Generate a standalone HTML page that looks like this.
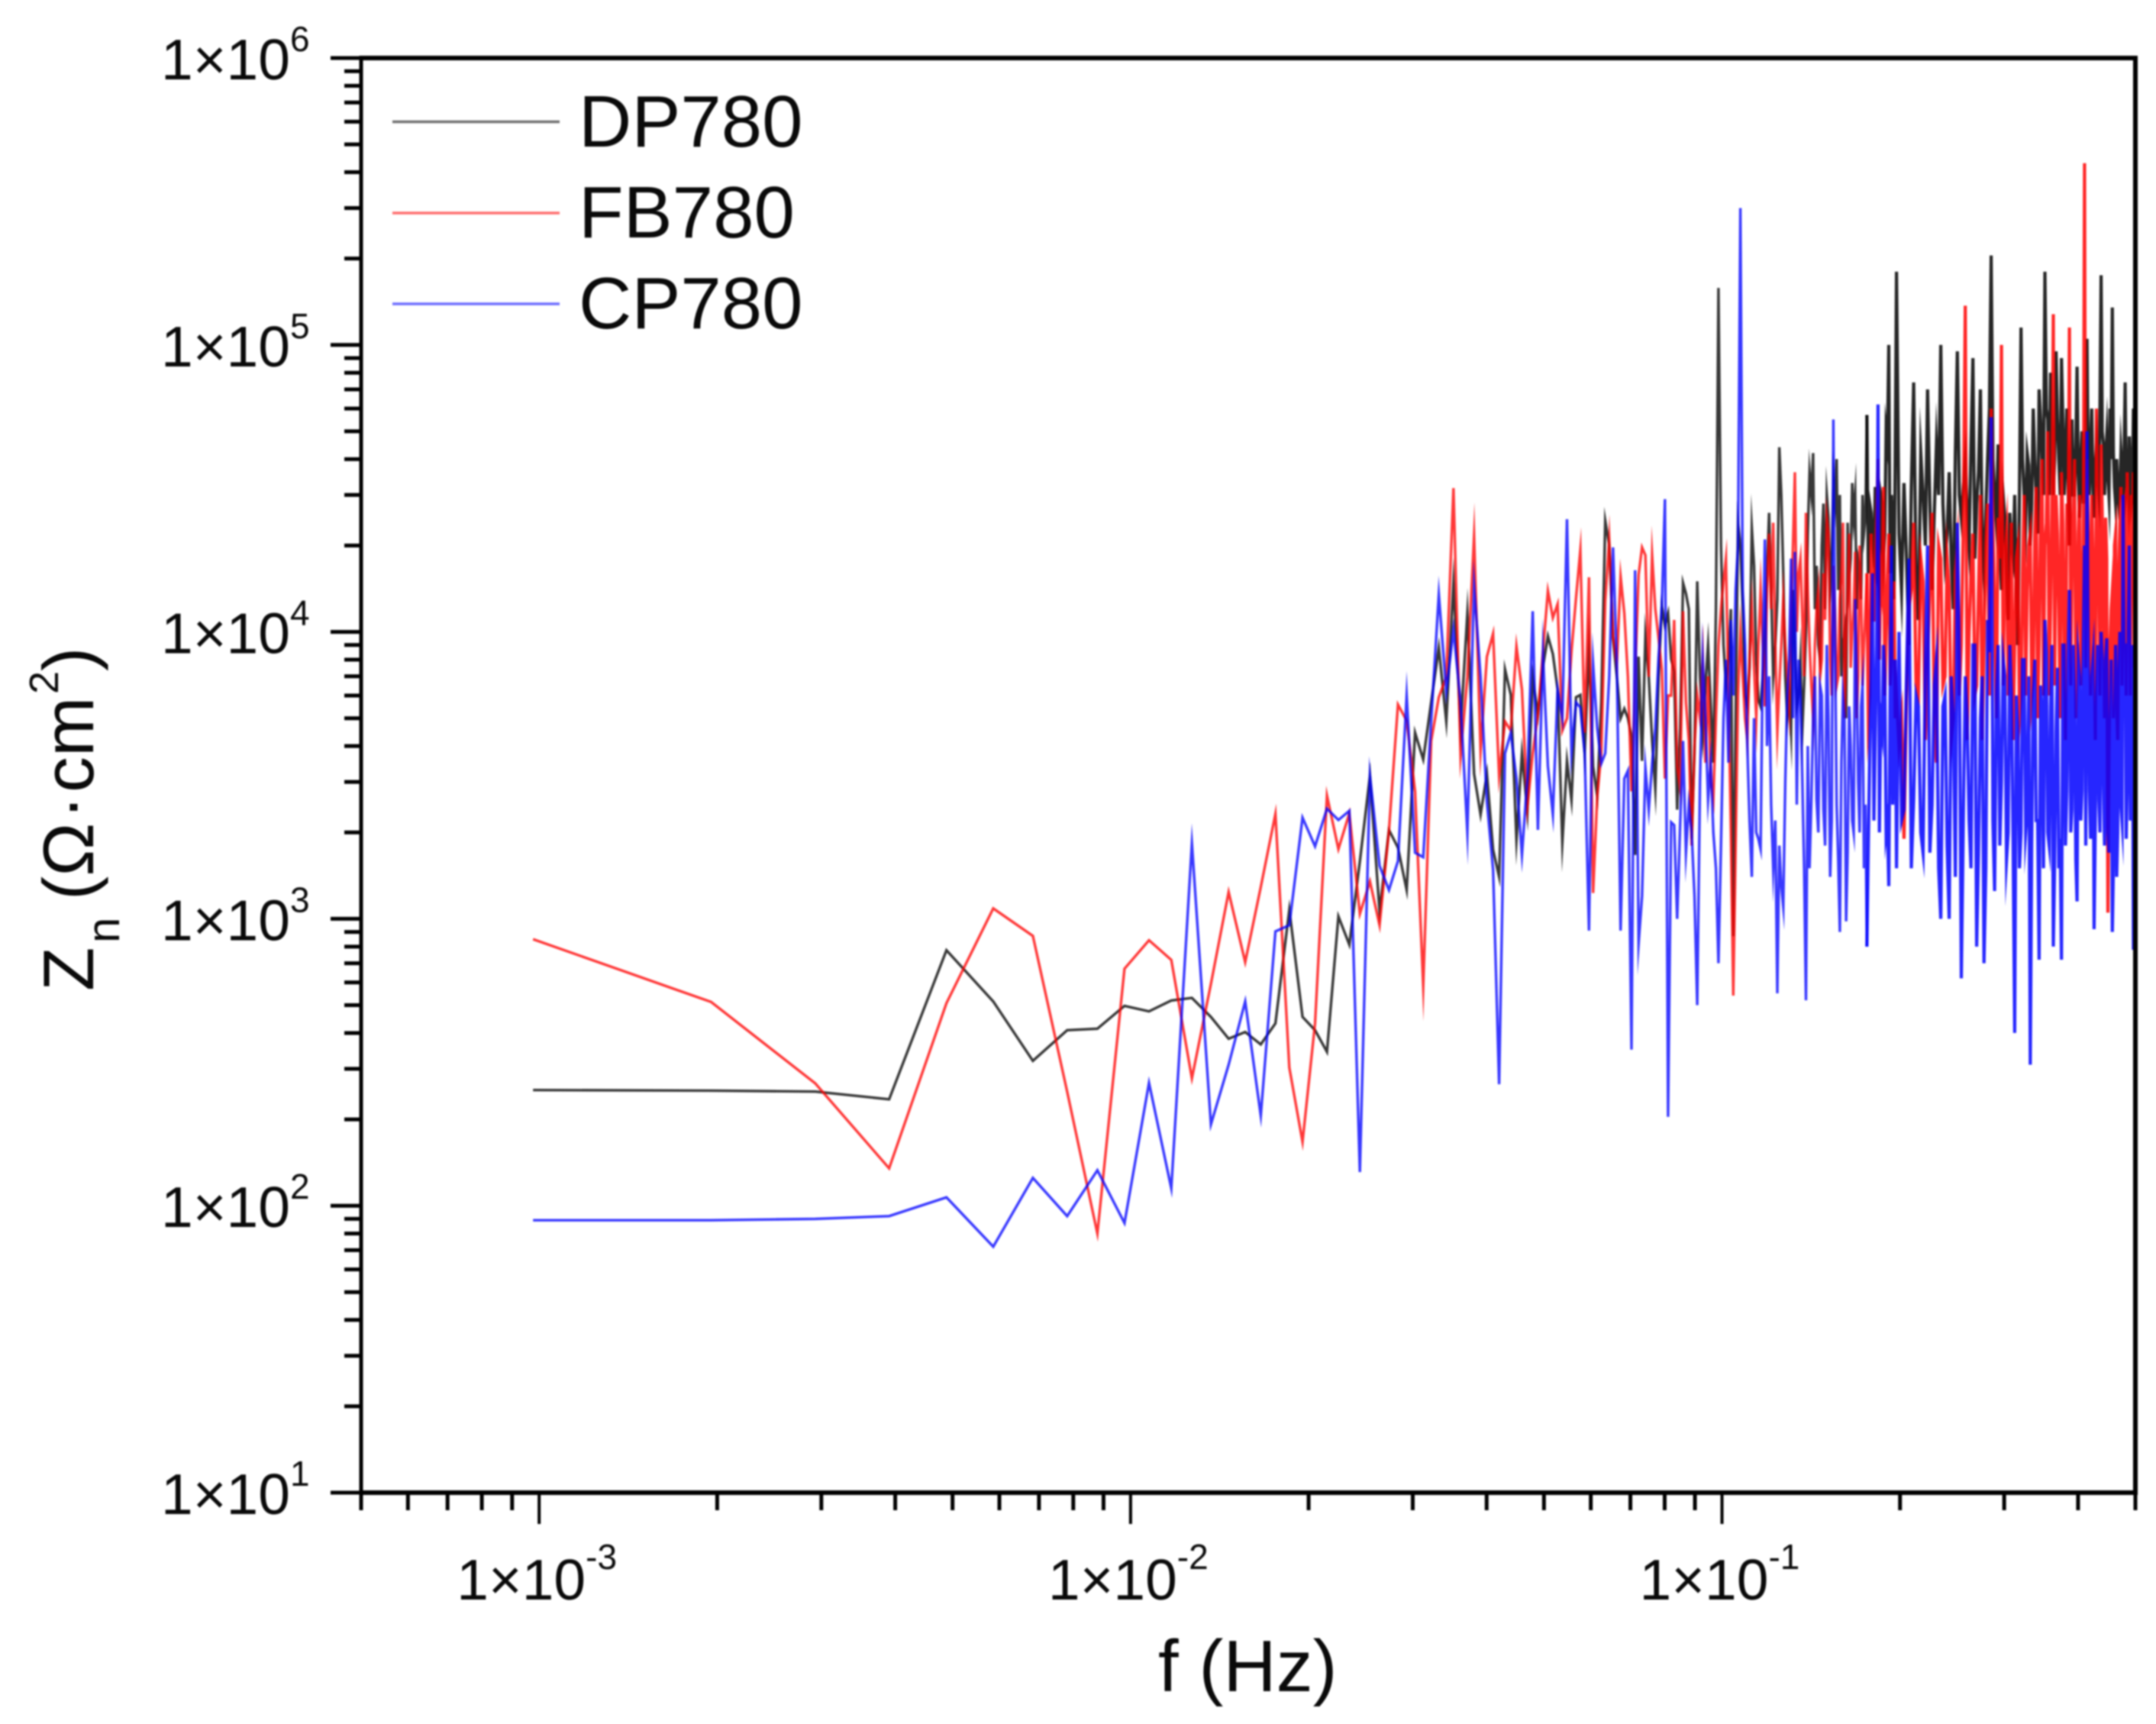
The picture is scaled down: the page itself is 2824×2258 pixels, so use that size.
<!DOCTYPE html>
<html lang="en">
<head>
<meta charset="utf-8">
<title>Noise impedance spectrum</title>
<style>
html,body{margin:0;padding:0;background:#fff;width:2824px;height:2258px;overflow:hidden}
svg{display:block;filter:blur(1px)}
text{font-family:"Liberation Sans","DejaVu Sans",sans-serif;fill:#0a0a0a}
</style>
</head>
<body>
<svg id="chart" xmlns="http://www.w3.org/2000/svg" width="2824" height="2258" viewBox="0 0 2824 2258">
  <rect x="0" y="0" width="2824" height="2258" fill="#ffffff"/>
  <g id="series-layer"></g>
  <g id="axis-layer"></g>
  <g id="legend">
    <g>
      <line x1="514" x2="733" y1="159.5" y2="159.5" stroke="#222" stroke-opacity="0.65" stroke-width="3.5"/>
      <text x="758" y="192" font-size="96">DP780</text>
    </g>
    <g>
      <line x1="514" x2="733" y1="279" y2="279" stroke="#ff2020" stroke-opacity="0.65" stroke-width="3.5"/>
      <text x="758" y="311" font-size="96">FB780</text>
    </g>
    <g>
      <line x1="514" x2="733" y1="398" y2="398" stroke="#2020ff" stroke-opacity="0.65" stroke-width="3.5"/>
      <text x="758" y="430" font-size="96">CP780</text>
    </g>
  </g>
  <text x="1517" y="2215" font-size="96">f (Hz)</text>
  <text transform="translate(122,1298) rotate(-90)" font-size="94"><tspan x="0">Z</tspan><tspan x="63" dy="34" font-size="60">n</tspan><tspan x="119" dy="-34">(Ω</tspan><tspan x="225">·</tspan><tspan x="260">cm</tspan><tspan x="389" dy="-46" font-size="54">2</tspan><tspan x="419" dy="46">)</tspan></text>
</svg>
<script>
// Frequency bins (f = bin / 1024 Hz)
const freqBins = [
1,2,3,4,5,6,7,8,9,10,
11,12,13,14,15,16,17,18,19,20,
21,22,23,24,25,26,27,28,29,30,
31,32,33,34,35,36,37,38,39,40,
41,42,43,44,45,46,47,48,49,50,
51,52,53,54,55,56,57,58,59,60,
61,62,63,64,65,66,67,68,69,70,
71,72,73,74,75,76,77,78,79,80,
81,82,83,84,85,86,87,88,89,90,
91,92,93,94,95,96,97,98,99,100,
101,102,103,104,105,106,107,108,109,110,
111,112,113,114,115,116,117,118,119,120,
121,122,123,124,125,126,127,128,129,130,
132,134,136,138,140,142,144,146,148,150,
152,154,156,158,160,162,164,166,168,170,
172,174,176,178,180,182,184,186,188,190,
192,194,196,198,200,202,
204,208,212,216,220,224,228,232,236,240,
244,248,252,256,260,264,268,272,276,280,
284,288,292,296,300,304,308,312,316,320,
324,328,332,336,340,344,348,352,356,360,
364,368,372,376,380,384,388,392,396,400,
404,408,412,416,420,424,428,432,436,440,
444,448,452,456,460,464,468,472,476,480,
484,488,492,496,500,504,508,512];

const dp780Z = [
253,252,250,235,777,515,320,409,414,497,
476,519,530,455,382,403,365,432,1076,455,
409,344,1020,813,1585,3150,1060,2040,1770,1260,
4450,3590,5680,8810,4870,14800,4620,11600,3200,2310,
3200,1740,1400,7400,6030,1880,3770,2360,6970,5130,
7550,9660,8370,6300,1840,3550,2590,5920,6030,3770,
8810,3400,2670,5680,24400,20100,9470,6970,5000,5400,
5000,4300,1670,8200,3550,9660,6970,4170,2830,6970,
12300,10500,11600,8030,7250,2400,4620,14800,13600,12000,
1900,3800,15000,7000,4400,6500,9000,5600,3500,12000,
158000,20000,9000,6500,8000,12000,870,5000,24000,20000,
12000,6000,5500,7500,23000,17000,8000,5800,5500,7000,
9000,16000,26000,14000,7000,9000,13000,44000,30000,16000,
5000,4500,9000,6000,4600,10000,36000,42000,17000,8000,
28000,30000,14000,34000,40000,30000,9000,5000,15000,33000,
30000,18000,13000,22000,57000,28000,20000,32000,15000,30000,
18000,50000,100000,30000,13000,180000,
22000,33000,9000,74000,11000,30000,70000,14000,45000,100000,
18000,36000,12000,95000,25000,40000,20000,90000,28000,70000,
16000,40000,205000,30000,45000,14000,25000,11000,20000,30000,
9000,115000,30000,42000,20000,60000,30000,70000,40000,180000,
55000,80000,30000,95000,40000,90000,30000,60000,20000,55000,
30000,84000,25000,50000,35000,105000,30000,60000,25000,45000,
30000,175000,45000,40000,35000,60000,135000,32000,40000,28000,
42000,30000,74000,35000,48000,28000,60000,34000];

const fb780Z = [
849,513,267,135,508,1087,872,250,80,670,
842,719,278,593,1240,706,1290,2320,303,167,
432,2690,1750,2330,1040,1350,950,2030,5580,4900,
2780,582,4170,5920,6970,31700,3700,6970,21600,3850,
8200,9860,3140,4870,4530,8900,6300,2450,3770,5130,
8550,13900,11200,12500,4530,5000,8550,13100,19300,4450,
15500,1230,2670,3770,12800,21000,9660,7700,15600,11600,
6970,2780,6970,15800,19700,18500,6970,18500,12000,9470,
7400,3080,6000,6000,11000,3400,2830,11800,5680,4170,
1800,4000,6000,5000,8000,3500,7000,3000,2600,5000,
9000,12000,15000,18000,6000,2000,540,1800,6000,10000,
7000,5000,4200,8000,12000,7500,5000,9000,14000,9000,
5500,14000,22000,12000,24000,9000,4500,6500,9000,13000,
7000,12000,36000,16000,11000,26000,9000,5000,12000,7000,
16000,25000,8000,17000,6500,13000,24000,9000,22000,10000,
19000,7000,14000,9000,16000,6000,11000,18000,40000,16000,
32000,10000,22000,8000,15000,6000,
4000,1900,12000,24000,6000,15000,8000,26000,3500,18000,
7000,14000,5000,20000,9000,137000,10000,22000,6500,30000,
9000,28000,60000,12000,25000,100000,18000,6000,24000,9000,
20000,6000,30000,14000,22000,7000,32000,9000,40000,20000,
50000,12000,128000,30000,12000,36000,9000,28000,115000,16000,
40000,10000,30000,12000,430000,40000,13000,30000,10000,60000,
14000,45000,11000,25000,1050,9000,14000,20000,5500,16000,
32000,10000,28000,36000,14000,30000,36000,25000];

const cp780Z = [
89,89,90,92,107,72,125,92,133,87,
268,115,1830,192,310,515,206,904,950,2250,
1790,2420,2210,2380,131,3150,1530,1260,1590,6000,
1700,1640,4900,13500,6200,10200,5680,2000,14500,6970,
2560,1480,265,3770,4450,3080,1670,3080,11800,2040,
8370,3400,2310,6300,5000,24700,3770,5680,5450,3770,
910,7700,4620,3480,3770,6970,19700,7700,910,3080,
3280,350,16400,820,1200,3350,2400,3480,4620,8200,
12300,29000,204,2170,2120,1000,2120,4170,1700,2500,
2000,1200,500,3000,8000,5000,2600,3500,2000,1500,
700,1800,5000,8000,3500,11000,6000,14000,20000,300000,
14000,9000,4000,2200,1400,5000,2000,1900,1750,8000,
21000,4000,7000,2500,1500,2200,550,1800,1300,1100,
6000,18000,19000,8000,3000,520,1500,5000,2600,6500,
2400,9000,1400,55000,2500,900,6000,980,5500,2200,
13000,3000,5500,1500,800,3800,16000,4500,62000,5000,
9000,2000,1300,20000,3500,1500,
10000,2400,18000,2600,5500,1700,20000,2500,8000,1000,
6000,1000,5000,24000,620,7000,2200,9000,800,5000,
700,11000,56000,1250,9000,3000,7000,2000,6000,400,
4500,2000,8000,2400,310,6000,2200,720,5000,11000,
2000,5500,800,4500,1500,720,9000,2800,14000,2400,
6000,1150,7000,2800,20000,50000,2800,7000,920,6000,
2600,10000,3000,8000,2000,4000,900,5000,1400,7000,
2500,30000,9000,3000,20000,4000,780,15000];

// In-between bins of the dense high-frequency region
const denseBins = [
131,133,135,137,139,141,143,145,147,149,
151,153,155,157,159,161,163,165,167,169,
171,173,175,177,179,181,183,185,187,189,
191,193,195,197,199,201,
206,210,214,218,222,226,230,234,238,242,
246,250,254,258,262,266,270,274,278,282,
286,290,294,298,302,306,310,314,318,322,
326,330,334,338,342,346,350,354,358,362,
366,370,374,378,382,386,390,394,398,402,
406,410,414,418,422,426,430,434,438,442,
446,450,454,458,462,466,470,474,478,482,
486,490,494,498,502,506,510];

const dp780DenseZ = [
7000,6000,14000,5500,8000,6500,22000,30000,12000,9000,
20000,12000,25000,18000,28000,14000,7000,10000,24000,18000,
25000,12000,17000,30000,25000,16000,26000,18000,24000,14000,
28000,22000,45000,16000,22000,40000,
14000,18000,32000,16000,42000,20000,28000,26000,30000,28000,
22000,18000,42000,30000,32000,26000,45000,18000,36000,22000,
26000,60000,40000,24000,20000,30000,16000,26000,18000,14000,
30000,40000,24000,38000,28000,40000,22000,55000,30000,60000,
30000,50000,40000,55000,30000,55000,40000,32000,42000,30000,
45000,35000,40000,28000,50000,40000,45000,32000,38000,34000,
60000,50000,30000,48000,30000,40000,42000,28000,32000,30000,
36000,42000,32000,30000,38000,30000,36000];

const fb780DenseZ = [
9000,5500,20000,10000,18000,7000,14000,6500,9000,14000,
8000,11000,22000,6000,12000,7000,16000,5000,14000,7500,
12000,5000,20000,6500,12000,5000,22000,11000,25000,8000,
14000,6000,15000,6500,11000,5000,
5000,6000,14000,6500,18000,4200,14000,5000,20000,6500,
18000,4200,16000,6000,24000,4200,16000,6000,14000,4200,
20000,6000,24000,5000,18000,6500,22000,12000,4200,18000,
5000,16000,6000,20000,6000,22000,5000,25000,6000,24000,
6000,26000,6500,22000,5000,24000,4200,20000,6500,25000,
5000,22000,6500,20000,7500,24000,6000,18000,4200,22000,
6000,25000,5000,18000,3800,12000,5000,22000,4200,24000,
6500,26000,6000,22000,6000,20000,7500];

const cp780DenseZ = [
3000,8000,5000,2500,6000,1500,4000,2600,7000,2000,
6000,1800,5000,2200,9000,1600,3500,5000,1700,4000,
2000,7000,2000,6500,2500,1800,7000,2200,9000,2000,
4500,7000,2200,6000,2500,8000,
2200,7000,1500,6000,2000,8000,1700,6500,1500,5500,
1800,7000,1400,8000,2200,5000,1500,9000,1700,7000,
1500,8500,2200,6000,1800,8000,1600,9000,1900,6000,
1500,8000,2000,7000,1800,8000,2200,6500,1500,8500,
1800,9000,1600,7500,1900,9000,1800,8000,2000,9000,
1600,8000,2200,9000,1800,8500,1900,8000,2200,9000,
2000,8000,1800,9500,1700,8000,1500,9000,2000,10000,
2200,9000,1900,11000,2200,9000,2000];

const xTickExponents = [-3, -2, -1];
const yTickExponents = [6, 5, 4, 3, 2, 1];
const minorMantissas = [2, 3, 4, 5, 6, 7, 8, 9];
const denseStartBin = 180;

const NS = 'http://www.w3.org/2000/svg';
const plotLeft = 473, plotRight = 2797, plotTop = 76, plotBottom = 1955;
const xMin = 5e-4, xMax = 0.5, yMin = 10, yMax = 1e6;

function xScale(f) {
  return plotLeft + (Math.log10(f) - Math.log10(xMin)) / (Math.log10(xMax) - Math.log10(xMin)) * (plotRight - plotLeft);
}
function yScale(z) {
  return plotBottom - (Math.log10(z) - Math.log10(yMin)) / (Math.log10(yMax) - Math.log10(yMin)) * (plotBottom - plotTop);
}
function makeEl(tag, attrs) {
  const el = document.createElementNS(NS, tag);
  for (const k in attrs) el.setAttribute(k, attrs[k]);
  return el;
}
function pathFrom(points) {
  let d = '';
  points.forEach(function (p, i) {
    d += (i ? 'L' : 'M') + xScale(p[0] / 1024).toFixed(1) + ' ' + yScale(p[1]).toFixed(1);
  });
  return d;
}

const seriesLayer = document.getElementById('series-layer');
function drawSeries(values, denseValues, color, name) {
  const pts = [];
  for (let i = 0; i < Math.min(freqBins.length, values.length); i++) pts.push([freqBins[i], values[i]]);
  for (let j = 0; j < Math.min(denseBins.length, denseValues.length); j++) pts.push([denseBins[j], denseValues[j]]);
  pts.sort(function (a, b) { return a[0] - b[0]; });
  const sparse = pts.filter(function (p) { return p[0] <= denseStartBin; });
  const dense = pts.filter(function (p) { return p[0] >= denseStartBin; });

  const lowPath = makeEl('path', {d: pathFrom(sparse), fill: 'none', stroke: color, 'stroke-width': 3.4, 'stroke-opacity': 0.78, 'stroke-linejoin': 'miter', 'stroke-miterlimit': 30});
  
  
  seriesLayer.appendChild(lowPath);

  const highPath = makeEl('path', {d: pathFrom(dense), fill: 'none', stroke: color, 'stroke-width': 4.2, 'stroke-opacity': 0.85, 'stroke-linejoin': 'miter', 'stroke-miterlimit': 30});
  
  
  seriesLayer.appendChild(highPath);
}
drawSeries(dp780Z, dp780DenseZ, '#000000', 'series-dp780');
drawSeries(fb780Z, fb780DenseZ, '#ff0000', 'series-fb780');
drawSeries(cp780Z, cp780DenseZ, '#0000ff', 'series-cp780');

const axisLayer = document.getElementById('axis-layer');
function addLine(x1, y1, x2, y2, w, name) {
  const l = makeEl('line', {x1: x1, y1: y1, x2: x2, y2: y2, stroke: '#000', 'stroke-width': w});
  
  
  axisLayer.appendChild(l);
}
addLine(plotLeft, plotTop - 3, plotLeft, plotBottom + 3, 5, 'y-axis-line');
addLine(plotRight, plotTop - 3, plotRight, plotBottom + 3, 6, 'right-frame-line');
addLine(plotLeft, plotTop, plotRight + 3, plotTop, 6, 'top-frame-line');
addLine(plotLeft, plotBottom, plotRight + 3, plotBottom, 6, 'x-axis-line');

// y ticks
for (let e = 1; e <= 6; e++) {
  addLine(433, yScale(Math.pow(10, e)), plotLeft, yScale(Math.pow(10, e)), 5, 'y-major-tick');
  if (e < 6) {
    minorMantissas.forEach(function (m) {
      const y = yScale(m * Math.pow(10, e));
      addLine(451, y, plotLeft, y, 5, 'y-minor-tick');
    });
  }
}
// x ticks
for (let e = -4; e <= -1; e++) {
  if (e > -4) {
    const xm = xScale(Math.pow(10, e));
    addLine(xm, plotBottom, xm, 1996, 4, 'x-major-tick');
  }
  minorMantissas.forEach(function (m) {
    const f = m * Math.pow(10, e);
    if (f >= xMin * 0.999 && f <= xMax * 1.001) {
      const xs = xScale(f);
      addLine(xs, plotBottom, xs, 1978, 5, 'x-minor-tick');
    }
  });
}

function addPowerLabel(x, y, exponent, name, supDy) {
  const t = makeEl('text', {x: x, y: y, 'font-size': 75});
  
  
  t.appendChild(document.createTextNode('1×10'));
  const s = makeEl('tspan', {dy: supDy, 'font-size': 46});
  s.textContent = String(exponent);
  t.appendChild(s);
  axisLayer.appendChild(t);
}
yTickExponents.forEach(function (e) {
  addPowerLabel(211, yScale(Math.pow(10, e)) + 28, e, 'y-tick-label', -37);
});
xTickExponents.forEach(function (e) {
  addPowerLabel(xScale(Math.pow(10, e)) - 108, 2095, e, 'x-tick-label', -40);
});
</script>
</body>
</html>
